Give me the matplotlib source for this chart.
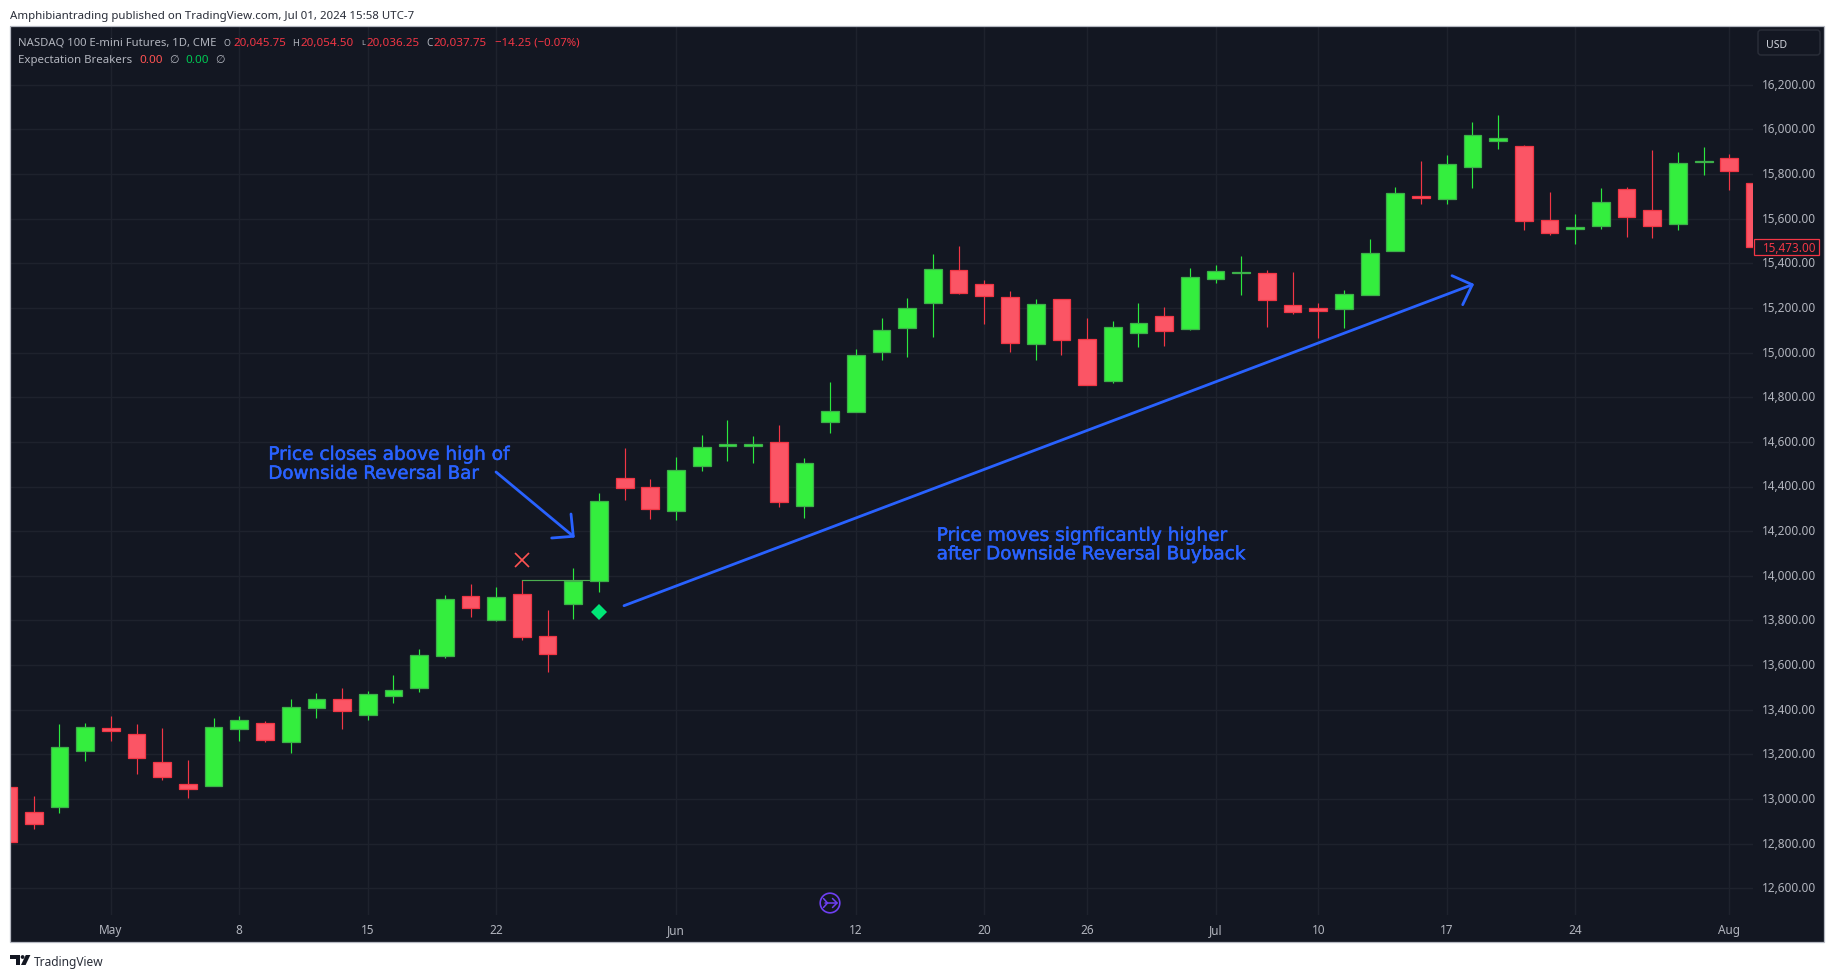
import matplotlib
matplotlib.use("Agg")
import matplotlib.pyplot as plt
import matplotlib.patheffects as pe
from matplotlib.lines import Line2D
from matplotlib.patches import Rectangle, FancyBboxPatch, Circle, Polygon
from matplotlib.transforms import Affine2D
import numpy as np

# ---- data ----
opens = [13052,12940,12966,13217,13318,13291,13166,13067,13060,13315,13341,13257,13409,13448,13378,13463,13499,13642,
         13908,13804,13917,13729,13875,13978,14437,14396,14289,14493,14580,14583,14598,14314,14690,14735,15004,15111,
         15223,15368,15306,15247,15040,15238,15059,14874,15089,15162,15107,15331,15358,15355,15211,15198,15197,15259,
         15456,15701,15689,15833,15949,15924,15592,15553,15568,15731,15637,15577,15852,15870,15758]
highs = [13052,13014,13336,13341,13372,13336,13318,13175,13363,13372,13350,13448,13475,13497,13482,13556,13672,13914,
         13963,13950,13980,13847,14035,14371,14572,14434,14532,14631,14698,14626,14676,14528,14868,15016,15155,15244,
         15441,15477,15325,15276,15240,15238,15155,15141,15222,15204,15379,15392,15432,15370,15361,15222,15280,15509,
         15742,15858,15885,16033,16064,15930,15719,15621,15737,15742,15907,15898,15921,15889,15758]
lows = [12809,12866,12938,13170,13260,13112,13085,13005,13060,13260,13255,13206,13363,13314,13355,13430,13479,13632,
        13815,13798,13714,13571,13806,13929,14340,14256,14251,14471,14516,14507,14310,14260,14640,14735,14967,14980,
        15070,15262,15128,15002,14967,14989,14856,14864,15025,15029,15101,15312,15258,15114,15173,15065,15110,15259,
        15456,15665,15665,15737,15912,15550,15527,15488,15553,15519,15513,15550,15797,15730,15473]
closes = [12809,12890,13232,13321,13305,13185,13100,13045,13321,13354,13264,13411,13448,13396,13469,13488,13644,13895,
          13857,13904,13727,13651,13978,14334,14395,14301,14472,14575,14589,14590,14332,14504,14737,14988,15099,15198,
          15373,15268,15255,15044,15216,15058,14856,15113,15131,15098,15337,15364,15361,15237,15183,15188,15261,15444,
          15713,15692,15843,15973,15960,15591,15537,15562,15673,15609,15568,15848,15856,15815,15473]
date_tick_bars = [4, 9, 14, 19, 26, 33, 38, 42, 47, 51, 56, 61, 67]
date_tick_labels = ["May", "8", "15", "22", "Jun", "12", "20", "26", "Jul", "10", "17", "24", "Aug"]
price_ticks = [12600,12800,13000,13200,13400,13600,13800,14000,14200,14400,14600,14800,15000,15200,15400,15600,15800,16000,16200]
last_price = 15473
sell_signal_bar, sell_signal_price = 20, 14071
buy_signal_bar, buy_signal_price = 23, 13838
breakout_from_bar, breakout_to_bar, breakout_price = 20, 23, 13980

# ---- style ----
W, H = 1835, 979
BG = "#131722"; GRID = "#1E222D"; TXT = "#B2B5BE"
UP_FILL = "#34EE3E"; UP_EDGE = "#3DB04A"; UP_WICK = "#2BE83E"
DN_FILL = "#FB5565"; DN_EDGE = "#F23645"; DN_WICK = "#F23645"
BLUE = "#2962FF"
FONT = "Noto Sans"

fig = plt.figure(figsize=(W/100, H/100), dpi=100, facecolor="white")
px = Affine2D().scale(1, -1).translate(0, H)   # top-left pixel coordinates

fig.add_artist(Rectangle((10, 27), 1814, 916, transform=px, fc=BG, ec="none", zorder=-5))
fig.add_artist(Rectangle((10, 27), 1814, 916, transform=px, fc="none", ec="#B6B9C2", lw=0.9, zorder=7))

L, R, T, B = 10, 1753, 27, 916
ax = fig.add_axes([L/W, 1-B/H, (R-L)/W, (B-T)/H], facecolor=BG)
bar0_px, bar_step = 8.1, 25.69
ax.set_xlim((L-bar0_px)/bar_step, (R-bar0_px)/bar_step)
y16000, px_per_price = 130.3, 0.22325
ax.set_ylim(16000-(B-y16000)/px_per_price, 16000+(y16000-T)/px_per_price)
for s in ax.spines.values():
    s.set_visible(False)
ax.set_axisbelow(True)
ax.grid(True, color=GRID, lw=1.0)

ax.yaxis.tick_right()
ax.set_yticks(price_ticks)
ax.set_yticklabels([f"{v:,.2f}" for v in price_ticks], fontsize=8.5, color=TXT, family=FONT)
ax.tick_params(axis="y", length=0, pad=6.5)
ax.set_xticks(date_tick_bars)
ax.set_xticklabels(date_tick_labels, fontsize=8.5, color=TXT, family=FONT)
ax.tick_params(axis="x", length=0, pad=6)
for lab in ax.get_yticklabels():
    lab.set_transform(lab.get_transform() + Affine2D().translate(0, 2))

xs = np.arange(len(opens))
o, h, l, c = map(np.array, (opens, highs, lows, closes))
up = c >= o
ax.vlines(xs[up], l[up], h[up], color=UP_WICK, lw=0.85, zorder=3)
ax.vlines(xs[~up], l[~up], h[~up], color=DN_WICK, lw=0.85, zorder=3)
ax.bar(xs[up], (c-o)[up], bottom=o[up], width=0.69, color=UP_FILL, edgecolor=UP_EDGE, lw=0.9, zorder=4)
ax.bar(xs[~up], (o-c)[~up], bottom=c[~up], width=0.69, color=DN_FILL, edgecolor=DN_EDGE, lw=0.9, zorder=4)

ax.plot([breakout_from_bar, breakout_to_bar], [breakout_price]*2, color="#4CAF50", lw=0.85, zorder=3)
ax.plot([sell_signal_bar], [sell_signal_price], marker="x", ms=10, mew=1.2, color="#FF5252", zorder=5)
ax.plot([buy_signal_bar], [buy_signal_price], marker="D", ms=8.6, mew=0, color="#00E676", zorder=5)


def put(x0, x1, yc, s, color, family=FONT, thick=0.0):
    """Place text between two pixel x positions, sizing it to that width."""
    t = fig.text(x0, H-yc-1.3, s, transform=Affine2D(), color=color, family=family,
                 fontsize=10, ha="left", va="center", zorder=10)
    w = t.get_window_extent(fig.canvas.get_renderer()).width
    t.set_fontsize(10*(x1-x0)/w)
    if thick:
        t.set_path_effects([pe.withStroke(linewidth=thick, foreground=color)])
    return t


def stroke(pts, color=BLUE, lw=2.0, z=9):
    a = np.array(pts, float)
    fig.add_artist(Line2D(a[:, 0], a[:, 1], transform=px, color=color, lw=lw, zorder=z,
                          solid_capstyle="round", solid_joinstyle="round"))


# header and footer
put(10, 413, 15, "Amphibiantrading published on TradingView.com, Jul 01, 2024 15:58 UTC-7", "#2A2E39")
put(18, 216.5, 42, "NASDAQ 100 E-mini Futures, 1D, CME", TXT)
RED = "#F23645"
for x0, x1, s, col in [(224, 231, "O", TXT), (233, 285, "20,045.75", RED), (292, 299, "H", TXT), (300.5, 353, "20,054.50", RED),
                       (361, 365, "L", TXT), (366.5, 419, "20,036.25", RED), (426, 432.5, "C", TXT), (434, 486.6, "20,037.75", RED),
                       (494.6, 578.6, "\u221214.25 (\u22120.07%)", RED)]:
    put(x0, x1, 42, s, col)
put(18, 132, 59, "Expectation Breakers", TXT)
put(139, 162, 59, "0.00", "#FF5252")
put(185, 208, 59, "0.00", "#00C853")
for x0, x1 in [(169.5, 179), (215.5, 225)]:
    put(x0, x1, 59, "\u2205", TXT, family=["DejaVu Sans"])

put(33.6, 103.5, 961.5, "TradingView", "#2A2E39")
fig.add_artist(Polygon([(10, 956), (19.5, 956), (19.5, 966), (15.5, 966), (15.5, 959.6), (10, 959.6)], transform=px, fc="#131722", ec="none"))
fig.add_artist(Circle((22.6, 958), 1.9, transform=px, fc="#131722", ec="none"))
fig.add_artist(Polygon([(25.8, 956), (30.4, 956), (25.6, 966), (21, 966)], transform=px, fc="#131722", ec="none"))

# USD button and last price tag
fig.add_artist(FancyBboxPatch((1758, 31), 62, 25, boxstyle="round,pad=0,rounding_size=3",
                              transform=px, fc=BG, ec="#2A2E39", lw=1.0, zorder=8))
put(1766, 1787, 44.7, "USD", "#D1D4DC")
fig.add_artist(Rectangle((1753.5, 239.5), 65.5, 16, transform=px, fc=BG, ec=DN_EDGE, lw=0.9, zorder=8))
put(1762, 1815, 247.5, f"{last_price:,.2f}", DN_EDGE)

# annotations
ANN = "DejaVu Sans"
put(268.3, 509.3, 454, "Price closes above high of", BLUE, family=ANN, thick=0.35)
put(268.3, 479, 473.5, "Downside Reversal Bar", BLUE, family=ANN, thick=0.35)
put(936.7, 1227, 535, "Price moves signficantly higher", BLUE, family=ANN, thick=0.35)
put(936.7, 1246, 554, "after Downside Reversal Buyback", BLUE, family=ANN, thick=0.35)
stroke([(496, 473), (573.3, 537.3)])
stroke([(571, 515), (573.3, 537.3), (551.7, 539)])
stroke([(624, 606.7), (1472.3, 285.7)])
stroke([(1452, 276.7), (1472.3, 285.7), (1462.7, 305.7)])

# session-break icon
PUR = "#6E3FF3"
fig.add_artist(Circle((830, 904), 9.8, transform=px, fc="none", ec=PUR, lw=1.2, zorder=8))
stroke([(825, 904), (837, 904)], PUR, 1.1)
stroke([(832.5, 899.5), (837, 904), (832.5, 908.5)], PUR, 1.1)
stroke([(823.5, 899.5), (827.5, 904), (823.5, 908.5)], PUR, 1.1)

fig.savefig("out.png", dpi=100, facecolor="white")
